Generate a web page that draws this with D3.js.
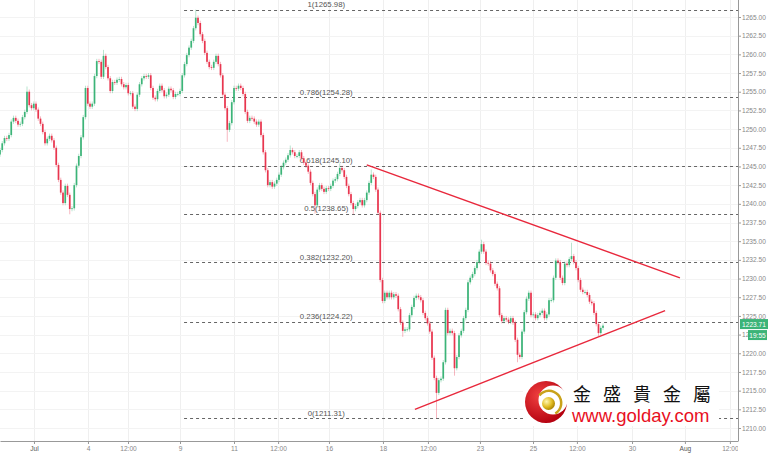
<!DOCTYPE html>
<html><head><meta charset="utf-8">
<script src="https://cdn.jsdelivr.net/npm/d3@7"></script>
<style>body{margin:0;background:#fff}svg{display:block}</style>
</head><body><svg id="c" width="769" height="455"></svg>
<script>
// ---- data (2-hour bars, index = bar number) ----
const closes = [
1247.2,1248.1,1248.8,1248.7,1249.2,1251.0,1251.5,1251.1,1250.6,1250.7,
1251.6,1252.3,1255.0,1253.2,1252.8,1253.4,1252.6,1251.4,1250.7,1249.6,
1248.1,1248.7,1249.1,1248.5,1247.5,1245.2,1243.2,1241.5,1240.1,1242.4,
1241.2,1239.3,1239.4,1242.5,1245.1,1246.4,1248.9,1251.6,1255.5,1253.4,
1253.0,1253.4,1257.1,1259.1,1259.0,1257.0,1259.8,1258.3,1256.8,1255.1,
1256.3,1256.2,1256.6,1256.7,1256.0,1255.6,1255.9,1254.8,1254.8,1253.0,
1252.7,1254.6,1256.0,1256.8,1257.1,1257.0,1257.2,1255.5,1254.2,1254.0,
1255.1,1255.8,1255.2,1254.4,1254.6,1255.4,1255.2,1254.3,1254.7,1254.7,
1255.1,1257.2,1258.7,1259.9,1260.9,1261.8,1263.5,1264.9,1264.2,1262.7,
1261.8,1260.2,1259.0,1258.3,1258.2,1259.0,1259.8,1258.7,1257.2,1254.6,
1252.8,1249.9,1250.8,1253.6,1255.5,1255.4,1255.8,1255.5,1254.7,1252.3,
1251.1,1251.5,1251.4,1251.0,1250.6,1251.0,1249.2,1246.9,1244.5,1242.5,
1242.9,1242.3,1242.7,1243.2,1243.9,1244.9,1245.5,1245.9,1246.5,1247.2,
1246.9,1246.4,1246.4,1246.9,1246.1,1245.5,1245.1,1244.3,1242.8,1241.3,
1239.8,1241.9,1242.5,1242.0,1241.6,1242.1,1242.0,1242.4,1243.1,1243.3,
1244.0,1244.8,1244.5,1243.6,1242.4,1241.3,1240.1,1239.3,1239.7,1240.2,
1240.5,1239.8,1240.5,1241.5,1242.8,1243.9,1243.6,1241.9,1238.8,1229.8,
1227.0,1228.1,1227.5,1228.1,1227.5,1227.9,1227.7,1225.9,1224.1,1223.0,
1223.2,1223.2,1225.1,1226.2,1227.4,1227.7,1227.5,1227.1,1225.4,1224.7,
1224.0,1222.9,1219.4,1216.7,1214.7,1216.4,1216.6,1218.8,1225.8,1222.7,
1223.0,1222.7,1218.0,1219.5,1222.4,1223.0,1224.7,1225.8,1229.5,1230.1,
1230.6,1231.4,1232.2,1233.6,1234.6,1233.6,1232.1,1232.0,1231.1,1230.6,
1229.3,1228.7,1225.1,1224.3,1224.7,1224.5,1224.2,1224.7,1224.1,1221.8,
1219.8,1219.5,1222.9,1225.5,1227.3,1228.1,1225.1,1225.2,1224.7,1225.1,
1225.4,1225.7,1224.7,1225.2,1227.1,1227.1,1230.1,1232.4,1232.2,1230.1,
1229.4,1232.0,1231.8,1232.6,1233.0,1232.2,1231.4,1229.8,1228.5,1228.2,
1228.2,1227.8,1226.9,1226.7,1225.4,1223.9,1222.7,1223.4,1223.7
];
const firstOpen = 1246.6;
const highSpikes = [[87,1265.98],[214,1235.2],[254,1234.8],[151,1245.4],[12,1255.7],[46,1260.6],[165,1244.6],[129,1247.8]];
const lowSpikes = [[194,1211.31],[31,1238.6],[157,1238.6],[140,1238.7],[202,1217.0],[230,1218.8],[266,1222.3],[101,1248.3],[179,1222.2]];

const xTickIdx = [15.1,39.1,56.9,80,104,123.6,146.2,170.2,190.2,213.3,236.9,256.4,280.9,304.4,324.4];
const xTickLabels = ['Jul','4','12:00','9','11','12:00','16','18','12:00','23','25','12:00','30','Aug','12:00'];
const yTicks = [1210,1212.5,1215,1217.5,1220,1222.5,1225,1227.5,1230,1232.5,1235,1237.5,1240,1242.5,1245,1247.5,1250,1252.5,1255,1257.5,1260,1262.5,1265];

const fibLevels = ['1','0.786','0.618','0.5','0.382','0.236','0'];
const fibPrices = [1265.98,1254.28,1245.10,1238.65,1232.20,1224.22,1211.31];
const fibStartIdx = 81.8;
const fibLabelIdx = 145;

const trendUpper = [[163,1245.2],[302.2,1230.1]];
const trendLower = [[184.4,1212.5],[295.6,1225.7]];

const lastPrice = '1223.71', lastTime = '19:55', lastValue = 1223.71;

// ---- layout ----
const W = 738, H = 441;
const svg = d3.select('#c');
const x = d3.scaleLinear().domain([0, 328]).range([0, W]);
const y = d3.scaleLinear().domain([1210, 1265]).range([428, 17]);
const green = '#3cb478', red = '#e8364f';

const defs = svg.append('defs');
defs.append('clipPath').attr('id','plot')
  .append('rect').attr('x',0).attr('y',0).attr('width',W).attr('height',H);
defs.append('clipPath').attr('id','xclip').append('rect')
  .attr('x',0).attr('y',0).attr('width',W).attr('height',20);

// grid
const grid = svg.append('g');
grid.selectAll('line.v').data(xTickIdx).join('line')
  .attr('x1', d=>Math.round(x(d))+0.5).attr('x2', d=>Math.round(x(d))+0.5)
  .attr('y1',0).attr('y2',H).attr('stroke','#efefef');
grid.selectAll('line.h').data(yTicks).join('line')
  .attr('y1', d=>Math.round(y(d))+0.5).attr('y2', d=>Math.round(y(d))+0.5)
  .attr('x1',0).attr('x2',W).attr('stroke','#f3f3f3');

// fib lines
const fib = svg.append('g').attr('clip-path','url(#plot)');
fib.selectAll('line').data(fibPrices).join('line')
  .attr('x1', x(fibStartIdx)).attr('x2', W)
  .attr('y1', d=>Math.round(y(d))+0.5).attr('y2', d=>Math.round(y(d))+0.5)
  .attr('stroke','#666').attr('stroke-dasharray','3,3').attr('stroke-width',1);
fib.selectAll('text').data(fibPrices).join('text')
  .attr('x', x(fibLabelIdx)).attr('y', d=>y(d)-2.5)
  .attr('text-anchor','middle')
  .attr('font-family','Liberation Sans, Arial, sans-serif').attr('font-size',7.8)
  .attr('fill','#555')
  .text((d,i)=>fibLevels[i]+'('+d.toFixed(2)+')');

// candles
const candles = closes.map((c,i)=>{
  const o = i===0 ? firstOpen : closes[i-1];
  let hi = Math.max(o,c)+0.3, lo = Math.min(o,c)-0.3;
  highSpikes.forEach(s=>{ if(s[0]===i) hi = s[1]; });
  lowSpikes.forEach(s=>{ if(s[0]===i) lo = s[1]; });
  return {i,o,c,hi,lo};
});
const cg = svg.append('g').attr('clip-path','url(#plot)');
cg.selectAll('line').data(candles).join('line')
  .attr('x1', d=>x(d.i)).attr('x2', d=>x(d.i))
  .attr('y1', d=>y(d.hi)).attr('y2', d=>y(d.lo))
  .attr('stroke', d=>d.c>=d.o?green:red).attr('stroke-opacity',0.45).attr('stroke-width',0.8);
cg.selectAll('rect').data(candles).join('rect')
  .attr('x', d=>x(d.i)-0.85).attr('width',1.7)
  .attr('y', d=>y(Math.max(d.o,d.c)))
  .attr('height', d=>Math.max(0.8, Math.abs(y(d.o)-y(d.c))))
  .attr('fill', d=>d.c>=d.o?green:red);

// trend lines
const tl = svg.append('g').attr('clip-path','url(#plot)');
[trendUpper, trendLower].forEach(t=>{
  tl.append('line').attr('x1',x(t[0][0])).attr('y1',y(t[0][1]))
    .attr('x2',x(t[1][0])).attr('y2',y(t[1][1]))
    .attr('stroke','#e8283c').attr('stroke-width',1.4);
});

// axes
const xAxisG = svg.append('g').attr('transform',`translate(0,${H})`)
  .call(d3.axisBottom(x).tickValues(xTickIdx).tickFormat((d,i)=>xTickLabels[i]).tickSize(3).tickSizeOuter(0));
xAxisG.select('.domain').attr('stroke','#999');
xAxisG.selectAll('.tick line').attr('stroke','#999');
xAxisG.selectAll('.tick text').attr('font-family','Liberation Sans, Arial, sans-serif')
  .attr('font-size',6.6).attr('fill',(d,i)=>/[A-Za-z]/.test(xTickLabels[i])?'#555':'#888').attr('dy','0.6em');
xAxisG.attr('clip-path','url(#xclip)');

const yAxisG = svg.append('g').attr('transform',`translate(${W},0)`)
  .call(d3.axisRight(y).tickValues(yTicks).tickFormat(d3.format('.2f')).tickSize(3).tickSizeOuter(0));
yAxisG.select('.domain').remove();
yAxisG.selectAll('.tick line').attr('stroke','#999');
yAxisG.selectAll('.tick text').attr('font-family','Liberation Sans, Arial, sans-serif')
  .attr('font-size',6.6).attr('fill','#888').attr('x',4);
svg.append('line').attr('x1',W+0.5).attr('x2',W+0.5).attr('y1',0).attr('y2',H+0.5).attr('stroke','#999');

// last price labels
const yl = y(lastValue);
svg.append('rect').attr('x',740).attr('y',yl-6.5).attr('width',28).attr('height',10).attr('fill',green);
svg.append('text').attr('x',754).attr('y',yl+1).attr('text-anchor','middle')
  .attr('font-family','Liberation Sans, Arial, sans-serif').attr('font-size',6.6).attr('fill','#fff').text(lastPrice);
svg.append('rect').attr('x',748).attr('y',yl+4.5).attr('width',19).attr('height',10).attr('fill',green);
svg.append('text').attr('x',757.5).attr('y',yl+12).attr('text-anchor','middle')
  .attr('font-family','Liberation Sans, Arial, sans-serif').attr('font-size',6.6).attr('fill','#fff').text(lastTime);

// logo
const logo = svg.append('g');
const rg = defs.append('radialGradient').attr('id','redg').attr('cx','35%').attr('cy','35%').attr('r','70%');
rg.append('stop').attr('offset','0%').attr('stop-color','#f04040');
rg.append('stop').attr('offset','100%').attr('stop-color','#b3000f');
const gg = defs.append('radialGradient').attr('id','goldg').attr('cx','35%').attr('cy','35%').attr('r','70%');
gg.append('stop').attr('offset','0%').attr('stop-color','#fff7b0');
gg.append('stop').attr('offset','60%').attr('stop-color','#e0bb20');
gg.append('stop').attr('offset','100%').attr('stop-color','#a88000');
logo.append('rect').attr('x',523).attr('y',380).attr('width',196).attr('height',46).attr('fill','#fff');
logo.append('circle').attr('cx',546).attr('cy',402).attr('r',21).attr('fill','url(#redg)');
logo.append('circle').attr('cx',553).attr('cy',400).attr('r',14.5).attr('fill','#fff');
const arc = d3.arc();
logo.append('path').attr('transform','translate(549,403)')
  .attr('d', arc({innerRadius:11,outerRadius:13.5,startAngle:-0.9,endAngle:2.6}))
  .attr('fill','#c9a21a');
logo.append('circle').attr('cx',548.5).attr('cy',403.5).attr('r',6.5).attr('fill','url(#goldg)');
logo.append('text').attr('x',573).attr('y',400.5)
  .attr('font-family','Noto Sans CJK TC, Noto Sans CJK SC, sans-serif').attr('font-size',18)
  .attr('letter-spacing','12px').attr('fill','#111').text('金盛貴金屬');
logo.append('text').attr('x',572).attr('y',422)
  .attr('font-family','Liberation Sans, Arial, sans-serif').attr('font-size',18.5)
  .attr('fill','#e8101e').text('www.golday.com');
</script></body></html>
